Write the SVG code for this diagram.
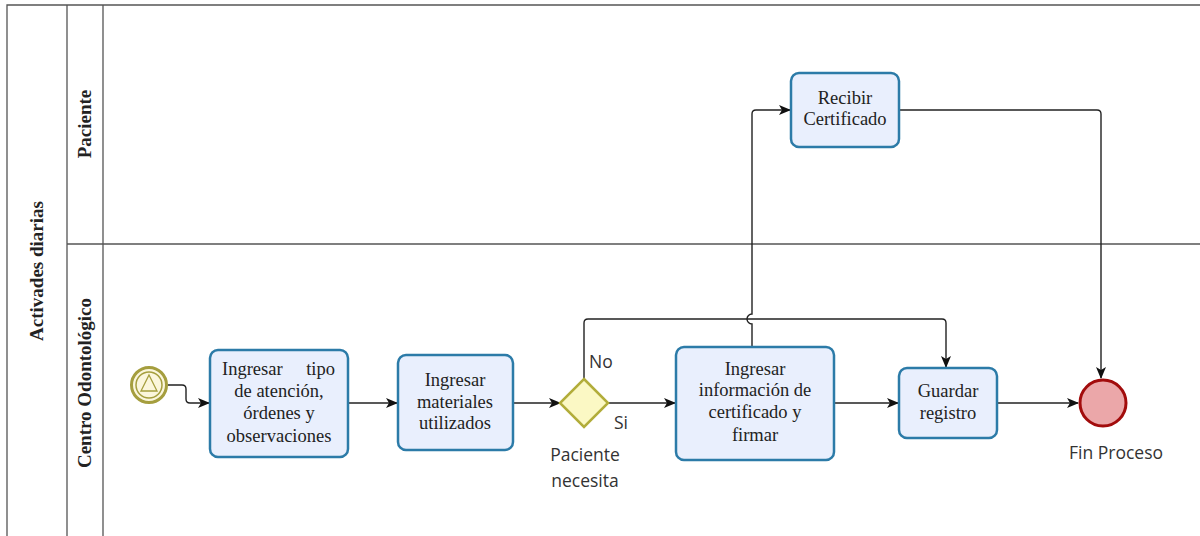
<svg xmlns="http://www.w3.org/2000/svg" width="1200" height="536" viewBox="0 0 1200 536">
<style>
.lane{fill:none;stroke:#555;stroke-width:1.3}
.task rect{fill:#e9effd;stroke:#2c7ba8;stroke-width:2.5}
.tt{font-family:"Liberation Serif",serif;font-size:18.5px;fill:#222;text-anchor:middle}
.lbl{font-family:"Open Sans","DejaVu Sans",sans-serif;font-size:17.5px;fill:#333}
.hdr{font-family:"Liberation Serif",serif;font-size:19px;font-weight:bold;fill:#222;text-anchor:middle}
.conn path{fill:none;stroke:#222;stroke-width:1.4}
</style>
<defs>
<marker id="arr" viewBox="0 0 12 10" refX="11" refY="5" markerWidth="12" markerHeight="10" markerUnits="userSpaceOnUse" orient="auto">
<path d="M0,0 L12,5 L0,10 L3,5 Z" fill="#111"/>
</marker>
</defs>
<rect width="1200" height="536" fill="#fff"/>
<g id="pool">
<path class="lane" d="M1200,5 H7 V536 M67,5 V536 M103,5 V536 M67,244 H1200"/>
<text class="hdr" transform="translate(43,271) rotate(-90)">Activades diarias</text>
<text class="hdr" transform="translate(91,124) rotate(-90)">Paciente</text>
<text class="hdr" transform="translate(91,383) rotate(-90)">Centro Odontológico</text>
</g>
<g class="conn" id="connectors">
<path d="M168,385 H182 Q186,385 186,389 V399 Q186,403 190,403 H209" marker-end="url(#arr)"/>
<path d="M348,403 H397" marker-end="url(#arr)"/>
<path d="M513,403 H560" marker-end="url(#arr)"/>
<path d="M608,403 H675" marker-end="url(#arr)"/>
<path d="M584,379 V323 Q584,319 588,319 H942 Q946,319 946,323 V367" marker-end="url(#arr)"/>
<path d="M752,347 V324 A5,5 0 0 1 752,314 V114 Q752,110 756,110 H790" marker-end="url(#arr)"/>
<path d="M834,403 H898" marker-end="url(#arr)"/>
<path d="M997,403 H1078" marker-end="url(#arr)"/>
<path d="M899,110 H1097 Q1101,110 1101,114 V378" marker-end="url(#arr)"/>
</g>
<g id="start">
<circle cx="149" cy="385" r="17.5" fill="#fbf6dc" stroke="#a59e3e" stroke-width="3"/>
<circle cx="149" cy="385" r="13" fill="none" stroke="#a59e3e" stroke-width="1.5"/>
<path d="M149,375 L157,391 H141 Z" fill="none" stroke="#a59e3e" stroke-width="1.3"/>
</g>
<g id="t1" class="task">
<rect x="210" y="350" width="138" height="107" rx="8"/>
<text class="tt" x="222" y="375" text-anchor="start" style="text-anchor:start">Ingresar</text>
<text class="tt" x="335" y="375" style="text-anchor:end">tipo</text>
<text class="tt" x="279" y="397">de atención,</text>
<text class="tt" x="279" y="419">órdenes y</text>
<text class="tt" x="279" y="442">observaciones</text>
</g>
<g id="t2" class="task">
<rect x="398" y="355" width="115" height="95" rx="8"/>
<text class="tt" x="455" y="386">Ingresar</text>
<text class="tt" x="455" y="408">materiales</text>
<text class="tt" x="455" y="429">utilizados</text>
</g>
<g id="gw">
<path d="M584,379 L608,403 L584,427 L560,403 Z" fill="#fbf8c4" stroke="#b2ad3a" stroke-width="2.5"/>
<text class="lbl" x="589" y="368">No</text>
<text class="lbl" x="614" y="429">Si</text>
<text class="lbl" x="585" y="461" text-anchor="middle">Paciente</text>
<text class="lbl" x="585" y="487" text-anchor="middle">necesita</text>
</g>
<g id="t3" class="task">
<rect x="676" y="347" width="158" height="113" rx="8"/>
<text class="tt" x="755" y="375">Ingresar</text>
<text class="tt" x="755" y="396">información de</text>
<text class="tt" x="755" y="418">certificado y</text>
<text class="tt" x="755" y="441">firmar</text>
</g>
<g id="t4" class="task">
<rect x="899" y="368" width="98" height="70" rx="8"/>
<text class="tt" x="948" y="397">Guardar</text>
<text class="tt" x="948" y="419">registro</text>
</g>
<g id="t5" class="task">
<rect x="791" y="73" width="108" height="74" rx="8"/>
<text class="tt" x="845" y="104">Recibir</text>
<text class="tt" x="845" y="125">Certificado</text>
</g>
<g id="end">
<circle cx="1103" cy="403" r="23" fill="#eba7a9" stroke="#a20c0c" stroke-width="3"/>
<text class="lbl" x="1116" y="459" text-anchor="middle">Fin Proceso</text>
</g>
</svg>
